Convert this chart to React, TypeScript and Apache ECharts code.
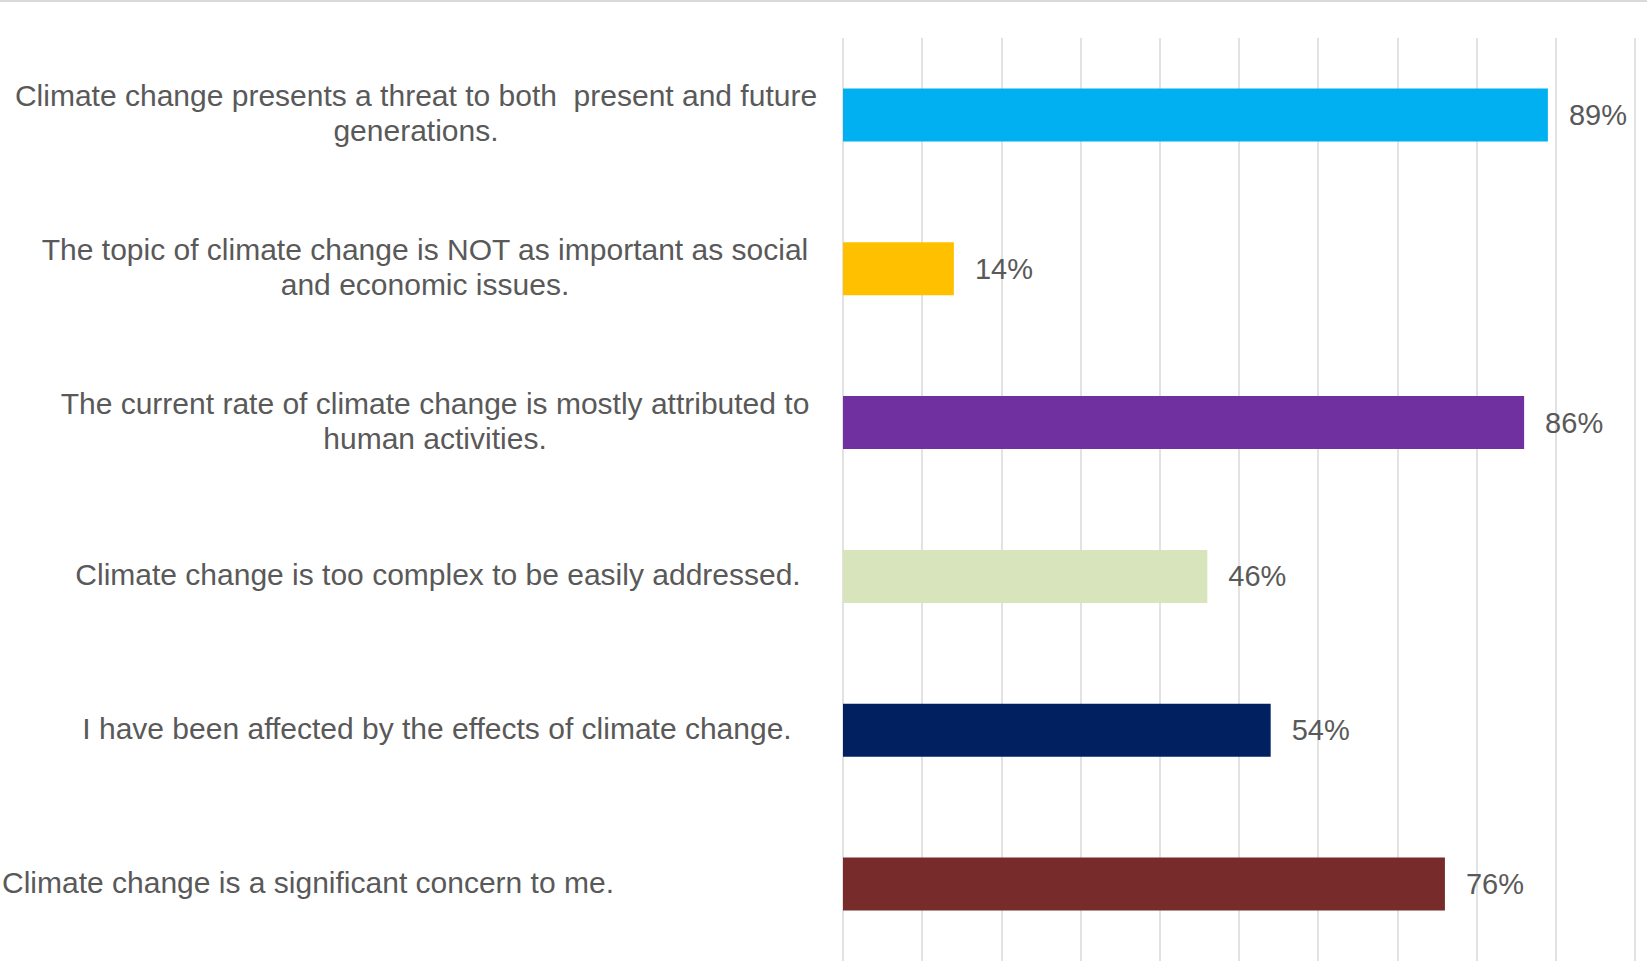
import React, { useEffect, useRef } from "react";
import * as echarts from "echarts";

const categories: string[] = [
  "Climate change presents a threat to both  present and future\ngenerations.",
  "The topic of climate change is NOT as important as social\nand economic issues.",
  "The current rate of climate change is mostly attributed to\nhuman activities.",
  "Climate change is too complex to be easily addressed.",
  "I have been affected by the effects of climate change.",
  "Climate change is a significant concern to me.",
];
const values: number[] = [89, 14, 86, 46, 54, 76];
const barColors: string[] = ["#00B0F0", "#FFC000", "#7030A0", "#D8E4BC", "#002060", "#772B2B"];
// per-label horizontal shift (px of right padding) to mimic the original label centering
const labelShift: number[] = [44, 26, 6, 0, 2, 260];

const FONT = "'Liberation Sans', Arial, sans-serif";
const TEXT = "#595959";

export default function App() {
  const ref = useRef<HTMLDivElement>(null);
  useEffect(() => {
    if (!ref.current) return;
    const chart = echarts.init(ref.current, null, { renderer: "svg" });
    const rich: Record<string, any> = {};
    labelShift.forEach((s, i) => {
      rich["l" + i] = {
        fontSize: 30,
        lineHeight: 35,
        color: TEXT,
        fontFamily: FONT,
        padding: [0, s, 3, 0],
      };
    });
    chart.setOption({
      animation: false,
      backgroundColor: "#ffffff",
      grid: {
        left: 843,
        right: 12,
        top: 38,
        bottom: 0,
        containLabel: false,
        outerBoundsMode: "none",
      },
      xAxis: {
        type: "value",
        min: 0,
        max: 100,
        interval: 10,
        axisLabel: { show: false },
        axisLine: { show: false },
        axisTick: { show: false },
        splitLine: { show: true, lineStyle: { color: "#d9d9d9", width: 1.5 } },
      },
      yAxis: {
        type: "category",
        inverse: true,
        data: categories,
        axisLine: { show: false },
        axisTick: { show: false },
        axisLabel: {
          align: "center",
          margin: 405,
          interval: 0,
          formatter: (v: string) => {
            const i = categories.indexOf(v);
            return v
              .split("\n")
              .map((line) => `{l${i}|${line}}`)
              .join("\n");
          },
          rich,
        },
      },
      graphic: [
        {
          type: "rect",
          left: 0,
          top: 0,
          shape: { width: 1647, height: 2 },
          style: { fill: "#d9d9d9" },
        },
      ],
      series: [
        {
          type: "bar",
          barWidth: 53,
          data: values.map((v, i) => ({ value: v, itemStyle: { color: barColors[i] } })),
          label: {
            show: true,
            position: "right",
            distance: 21,
            formatter: "{c}%",
            fontSize: 29,
            color: TEXT,
            fontFamily: FONT,
          },
        },
      ],
    });
    return () => chart.dispose();
  }, []);
  return (
    <div
      ref={ref}
      style={{ position: "fixed", left: 0, top: 0, width: 1647, height: 961 }}
    />
  );
}
